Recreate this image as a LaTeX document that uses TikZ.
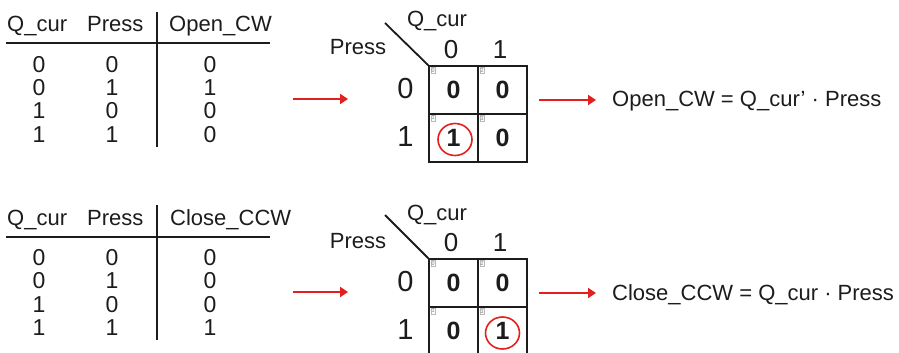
\documentclass[tikz,border=0pt]{standalone}
\usepackage{fontspec}
\setmainfont{Liberation Sans}
\usetikzlibrary{arrows.meta,shapes.geometric}
\definecolor{ink}{RGB}{28,28,28}
\definecolor{flowred}{RGB}{226,32,32}

\begin{document}
\begin{tikzpicture}[
      x=1pt, y=-1pt,
      every node/.style={font=\fontsize{22}{26}\selectfont, inner sep=0pt, text=ink},
      val/.style={anchor=base, font=\fontsize{23}{26}\selectfont},
      rule/.style={draw=ink, line width=1.8pt},
      axis/.style={font=\fontsize{26}{30}\selectfont},
      side/.style={font=\fontsize{29}{32}\selectfont},
      cell/.style={draw=ink, line width=1.7pt, minimum width=49pt, minimum height=48pt, font=\fontsize{25}{28}\selectfont\bfseries},
      idx/.style={draw=gray!55, line width=0.5pt, inner sep=0.8pt, text=gray, font=\fontsize{5.5}{5.5}\selectfont, anchor=north west},
      ring/.style={draw=flowred, line width=1.6pt, ellipse, minimum width=34pt, minimum height=32pt},
      flow/.style={draw=flowred, line width=2.8pt, -{Triangle[length=8pt,width=10pt]}}
    ]
      \useasboundingbox (0,0) rectangle (899,353);

      % truth table: Open_CW
      \node[anchor=base west] (h1a) at (7,32) {Q\_cur};
      \node[anchor=base west] (h1b) at (87,32) {Press};
      \node[anchor=base west] (h1c) at (169,32) {Open\_CW};
      \draw[rule] (6,43) -- (270,43);
      \draw[rule] (157,12) -- (157,147);
      \node[val] at (39,72) {0};    \node[val] at (112,72) {0};    \node[val] at (210,72) {0};
      \node[val] at (39,95.3) {0};  \node[val] at (112,95.3) {1};  \node[val] at (210,95.3) {1};
      \node[val] at (39,118.7) {1}; \node[val] at (112,118.7) {0}; \node[val] at (210,118.7) {0};
      \node[val] at (39,142) {1};   \node[val] at (112,142) {1};   \node[val] at (210,142) {0};

      % K-map: Open_CW
      \node[cell] (k1c00) at (453.5,90) {0};
      \node[cell] (k1c01) at (502.5,90) {0};
      \node[cell] (k1c10) at (453.5,138) {1};
      \node[cell] (k1c11) at (502.5,138) {0};
      \node[idx] at ([shift={(2.5,2)}]k1c00.north west) {0};
      \node[idx] at ([shift={(2.5,2)}]k1c01.north west) {2};
      \node[idx] at ([shift={(2.5,2)}]k1c10.north west) {1};
      \node[idx] at ([shift={(2.5,2)}]k1c11.north west) {3};
      \coordinate (k1d) at (385,23);
      \draw[rule] (k1d) -- (k1c00.north west);
      \node[anchor=base] (k1q) at (437,27) {Q\_cur};
      \node[anchor=base] (k1p) at (358,55) {Press};
      \node[axis] (k1x0) at (451,49.5) {0};
      \node[axis] (k1x1) at (500,49.5) {1};
      \node[side] (k1y0) at (405.5,89) {0};
      \node[side] (k1y1) at (405.5,137) {1};
      \node[ring] (k1r) at ([shift={(1.5,1.5)}]k1c10.center) {};

      % result: Open_CW
      \coordinate (a1s) at (293,99);
      \coordinate (a1e) at (348,99);
      \draw[flow] (a1s) -- (a1e);
      \coordinate (b1s) at (539,100);
      \coordinate (b1e) at (596,100);
      \draw[flow] (b1s) -- (b1e);
      \node[anchor=base west] (eq1) at (612,106) {Open\_CW = Q\_cur’ · Press};

      % truth table: Close_CCW
      \node[anchor=base west] (h2a) at (7,225.5) {Q\_cur};
      \node[anchor=base west] (h2b) at (87,225.5) {Press};
      \node[anchor=base west] (h2c) at (170,225.5) {Close\_CCW};
      \draw[rule] (6,237) -- (270,237);
      \draw[rule] (157,205) -- (157,340);
      \node[val] at (39,265.5) {0}; \node[val] at (112,265.5) {0}; \node[val] at (210,265.5) {0};
      \node[val] at (39,288.8) {0}; \node[val] at (112,288.8) {1}; \node[val] at (210,288.8) {0};
      \node[val] at (39,312.2) {1}; \node[val] at (112,312.2) {0}; \node[val] at (210,312.2) {0};
      \node[val] at (39,335.5) {1}; \node[val] at (112,335.5) {1}; \node[val] at (210,335.5) {1};

      % K-map: Close_CCW
      \node[cell] (k2c00) at (453.5,283) {0};
      \node[cell] (k2c01) at (502.5,283) {0};
      \node[cell] (k2c10) at (453.5,331) {0};
      \node[cell] (k2c11) at (502.5,331) {1};
      \node[idx] at ([shift={(2.5,2)}]k2c00.north west) {0};
      \node[idx] at ([shift={(2.5,2)}]k2c01.north west) {2};
      \node[idx] at ([shift={(2.5,2)}]k2c10.north west) {1};
      \node[idx] at ([shift={(2.5,2)}]k2c11.north west) {3};
      \coordinate (k2d) at (385,215);
      \draw[rule] (k2d) -- (k2c00.north west);
      \node[anchor=base] (k2q) at (437,220) {Q\_cur};
      \node[anchor=base] (k2p) at (358,248) {Press};
      \node[axis] (k2x0) at (451,242.5) {0};
      \node[axis] (k2x1) at (500,242.5) {1};
      \node[side] (k2y0) at (405.5,282) {0};
      \node[side] (k2y1) at (405.5,330) {1};
      \node[ring] (k2r) at ([shift={(0,2)}]k2c11.center) {};

      % result: Close_CCW
      \coordinate (a2s) at (293,292);
      \coordinate (a2e) at (348,292);
      \draw[flow] (a2s) -- (a2e);
      \coordinate (b2s) at (539,293);
      \coordinate (b2e) at (596,293);
      \draw[flow] (b2s) -- (b2e);
      \node[anchor=base west] (eq2) at (612,300) {Close\_CCW = Q\_cur · Press};
\end{tikzpicture}
\end{document}
